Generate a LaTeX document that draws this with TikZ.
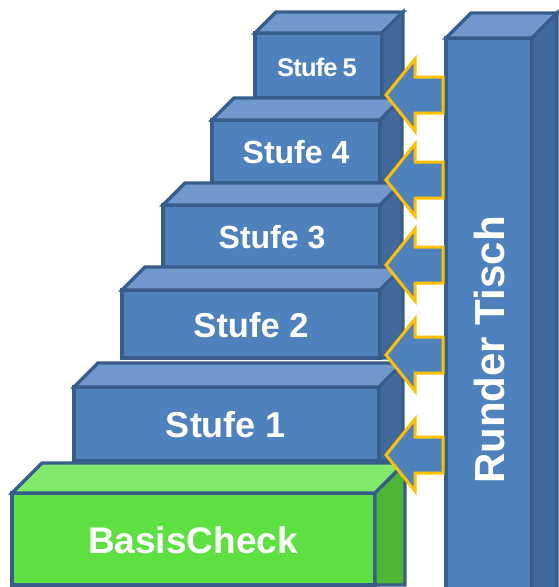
\documentclass[tikz,border=0pt]{standalone}
\usepackage{fontspec}
\setmainfont{Liberation Sans}

\definecolor{edge}{HTML}{385D8A}
\definecolor{bfront}{HTML}{4F81BD}
\definecolor{btop}{HTML}{7198CC}
\definecolor{bside}{HTML}{41699C}
\definecolor{gfront}{HTML}{5EE043}
\definecolor{gtop}{HTML}{80E86A}
\definecolor{gside}{HTML}{4DB535}
\definecolor{gold}{HTML}{FFC000}

\tikzset{
  face/.style={draw=edge, line width=3.2pt, line join=miter},
  boxtext/.style={text=white, font=\bfseries\fontsize{#1}{#1}\selectfont, inner sep=0pt},
  pointer/.style={draw=gold, fill=bfront, line width=3pt, line join=miter}
}

% 3D slab: x1, y1 (front top-left), x2, y2 (front bottom-right), depth, front, top, side colours
\newcommand{\quader}[8]{%
  \path[face,fill=#6] (#1,#2) rectangle (#3,#4);
  \path[face,fill=#7] (#1,#2) -- (#1+#5,#2-#5) -- (#3+#5,#2-#5) -- (#3,#2) -- cycle;
  \path[face,fill=#8] (#3,#2) -- (#3+#5,#2-#5) -- (#3+#5,#4) -- (#3,#4) -- cycle;
}

% left-pointing block arrow, tip at height #1
\newcommand{\pfeil}[1]{%
  \path[pointer] (386,#1) -- (415,#1-36) -- (415,#1-18) -- (443,#1-18)
    -- (443,#1+18) -- (415,#1+18) -- (415,#1+36) -- cycle;
}

\begin{document}
\begin{tikzpicture}[x=1pt,y=-1pt]
\useasboundingbox (0,0) rectangle (558,587);

% staircase, drawn from the top step downwards
\quader{255}{33}{382}{98}{21}{bfront}{btop}{bside}
\node[boxtext=25.5] (s5) at (317,67) {S\kern-0.8pt t\kern-0.8pt u\kern-0.8pt f\kern-0.8pt e\kern-2pt\ 5};
\quader{212}{120}{380}{183}{22}{bfront}{btop}{bside}
\node[boxtext=32] (s4) at (296,152) {Stufe 4};
\quader{163}{205}{380}{268}{22}{bfront}{btop}{bside}
\node[boxtext=32] (s3) at (272,237) {Stufe 3};
\quader{122}{290}{380}{358}{23}{bfront}{btop}{bside}
\node[boxtext=34.5] (s2) at (251,325) {Stufe 2};
\quader{74}{387}{379}{461}{24}{bfront}{btop}{bside}
\node[boxtext=36] (s1) at (226,425) {Stufe 1};
\quader{12}{493}{375}{585}{30}{gfront}{gtop}{gside}
\node[boxtext=37] (basis) at (193,540) {BasisCheck};

% round table column
\quader{446}{38}{532}{595}{25}{bfront}{btop}{bside}
\node[boxtext=42, rotate=90] (rt) at (489,350) {Runder Tisch};

% arrows from the column to each step
\pfeil{95}
\pfeil{180}
\pfeil{265}
\pfeil{355}
\pfeil{455}
\end{tikzpicture}
\end{document}
